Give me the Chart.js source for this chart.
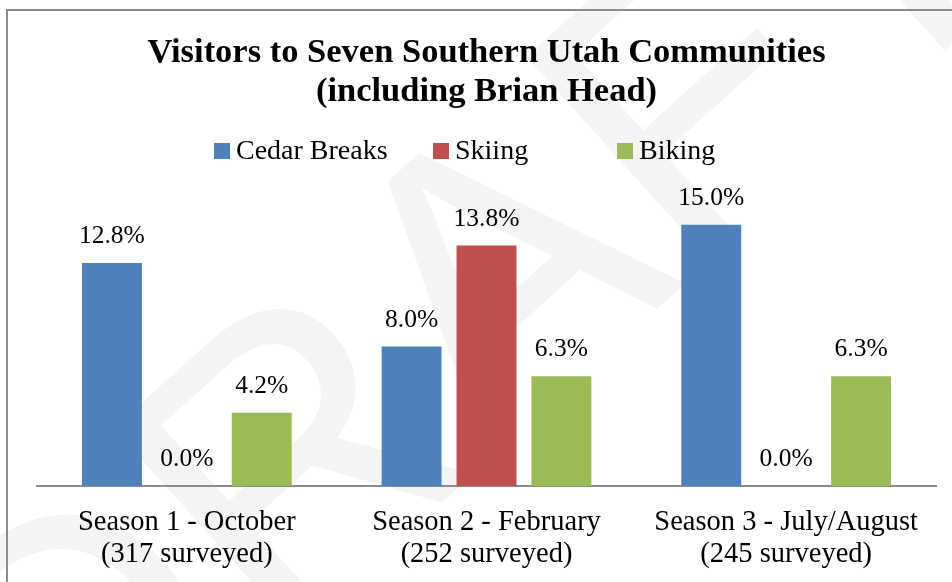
<!DOCTYPE html>
<html><head><meta charset="utf-8">
<script src="https://cdn.jsdelivr.net/npm/chart.js@4"></script>
<style>html,body{margin:0;padding:0;background:#fff;overflow:hidden}canvas{display:block}</style>
</head>
<body>
<canvas id="c" width="952" height="582"></canvas>
<script>
// ---- data ----
const categories = [
  ["Season 1 - October", "(317 surveyed)"],
  ["Season 2 - February", "(252 surveyed)"],
  ["Season 3 - July/August", "(245 surveyed)"]
];
const seriesNames = ["Cedar Breaks", "Skiing", "Biking"];
const cedarBreaks = [12.8, 8.0, 15.0];
const skiing = [0.0, 13.8, 0.0];
const biking = [4.2, 6.3, 6.3];
const titleLines = ["Visitors to Seven Southern Utah Communities", "(including Brian Head)"];
const watermarkText = "DRAFT";

// ---- styles ----
const SERIF = "'Liberation Serif', 'Times New Roman', serif";
const colors = ["#4F81BD", "#C0504D", "#9BBB59"];
const legendX = [214, 433, 617];
const legendBoxTop = 143;

const framePlugin = {
  id: 'frame',
  beforeDraw(chart) {
    const ctx = chart.ctx;
    ctx.save();
    ctx.fillStyle = '#ffffff';
    ctx.fillRect(0, 0, chart.width, chart.height);
    // watermark
    ctx.translate(480, 320);
    ctx.rotate(-42 * Math.PI / 180);
    ctx.fillStyle = 'rgba(0,0,0,0.045)';
    ctx.font = "400px 'Liberation Sans', sans-serif";
    ctx.textAlign = 'center';
    ctx.textBaseline = 'middle';
    ctx.fillText(watermarkText, 0, 0);
    ctx.restore();
    ctx.save();
    ctx.strokeStyle = '#8c8c8c';
    ctx.lineWidth = 2;
    ctx.strokeRect(7, 10, 1000, 1000);
    ctx.restore();
  }
};

const dataLabelPlugin = {
  id: 'dataLabels',
  afterDatasetsDraw(chart) {
    const ctx = chart.ctx;
    ctx.save();
    ctx.font = "25.5px " + SERIF;
    ctx.fillStyle = '#000';
    ctx.textAlign = 'center';
    ctx.textBaseline = 'alphabetic';
    chart.data.datasets.forEach((ds, i) => {
      const meta = chart.getDatasetMeta(i);
      meta.data.forEach((bar, j) => {
        ctx.fillText(ds.data[j].toFixed(1) + '%', bar.x, bar.y - 20);
      });
    });
    ctx.restore();
  }
};

const legendPlugin = {
  id: 'customLegend',
  afterDraw(chart) {
    const ctx = chart.ctx;
    ctx.save();
    ctx.font = "28px " + SERIF;
    ctx.textBaseline = 'alphabetic';
    ctx.textAlign = 'left';
    chart.data.datasets.forEach((ds, i) => {
      const x = legendX[i];
      ctx.fillStyle = ds.backgroundColor;
      ctx.fillRect(x, legendBoxTop, 16, 16);
      ctx.fillStyle = '#000';
      ctx.fillText(ds.label, x + 22, legendBoxTop + 16);
    });
    ctx.restore();
  }
};

new Chart(document.getElementById('c'), {
  type: 'bar',
  data: {
    labels: categories,
    datasets: [
      { label: seriesNames[0], data: cedarBreaks, backgroundColor: colors[0] },
      { label: seriesNames[1], data: skiing, backgroundColor: colors[1] },
      { label: seriesNames[2], data: biking, backgroundColor: colors[2] }
    ]
  },
  options: {
    responsive: false,
    animation: false,
    devicePixelRatio: 1,
    categoryPercentage: 0.75,
    barPercentage: 0.8,
    layout: { padding: { left: 37, right: 16, top: 0, bottom: 0 } },
    plugins: {
      legend: { display: false },
      tooltip: { enabled: false },
      title: {
        display: true,
        text: titleLines,
        color: '#000',
        font: { family: SERIF, size: 34.5, weight: 'bold', lineHeight: 1.15 },
        padding: { top: 33, bottom: 60 }
      }
    },
    scales: {
      x: {
        grid: { display: false, drawTicks: false },
        border: { display: true, color: '#8c8c8c', width: 2 },
        afterFit(scale) { scale.height = 96; },
        ticks: {
          color: '#000',
          font: { family: SERIF, size: 28.5, lineHeight: 1.1 },
          padding: 21,
          maxRotation: 0,
          autoSkip: false
        }
      },
      y: {
        display: false,
        min: 0,
        max: 18
      }
    }
  },
  plugins: [framePlugin, dataLabelPlugin, legendPlugin]
});
</script>
</body></html>
